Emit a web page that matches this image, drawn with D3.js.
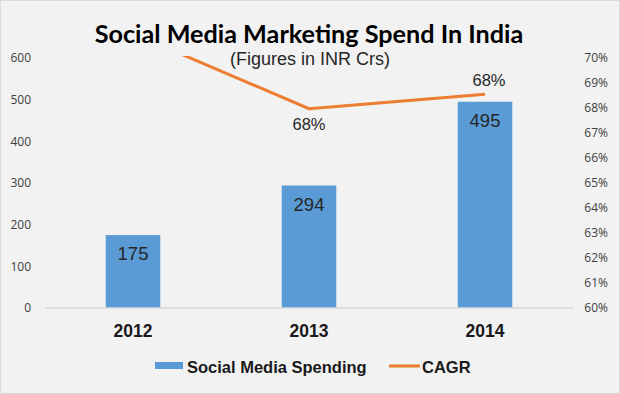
<!DOCTYPE html>
<html>
<head>
<meta charset="utf-8">
<script src="https://cdn.jsdelivr.net/npm/d3@7"></script>
<style>
  body { margin: 0; background: #fff; }
  svg { display: block; }
</style>
</head>
<body>
<div id="okvir"></div>
<script>
// podaci
const godine = ["2012", "2013", "2014"];
const potrosnja = [175, 294, 495];
const cagr = [70.98, 67.97, 68.55];
const cagrLabele = ["", "68%", "68%"];
const lijeviTickovi = [0, 100, 200, 300, 400, 500, 600];
const desniTickovi = [60, 61, 62, 63, 64, 65, 66, 67, 68, 69, 70];

function nacrtaj() {
  const sirina = 620, visina = 394;
  const gr = { left: 45, right: 573, top: 58, bottom: 308 };

  const svg = d3.select("#okvir").append("svg")
    .attr("width", sirina)
    .attr("height", visina);

  svg.append("rect")
    .attr("x", 0.5).attr("y", 0.5)
    .attr("width", sirina - 1).attr("height", visina - 1)
    .attr("fill", "#f2f2f2")
    .attr("stroke", "#dadada");

  const xSkala = d3.scaleBand()
    .domain(godine)
    .range([gr.left, gr.right])
    .paddingInner(0.69)
    .paddingOuter(0.345);

  const ySkala = d3.scaleLinear()
    .domain([0, 600])
    .range([gr.bottom, gr.top]);

  const y2Skala = d3.scaleLinear()
    .domain([60, 70])
    .range([gr.bottom, gr.top]);

  // lijeva os
  const lijevaOs = svg.append("g")
    .attr("transform", `translate(31,0)`)
    .call(d3.axisLeft(ySkala).tickValues(lijeviTickovi).tickSize(0).tickPadding(0));
  lijevaOs.select(".domain").remove();
  lijevaOs.selectAll("text")
    .style("font-family", "'Open Sans', sans-serif")
    .style("font-size", "12px")
    .attr("fill", "#404040");

  // desna os
  const desnaOs = svg.append("g")
    .attr("transform", `translate(608,0)`)
    .call(d3.axisLeft(y2Skala).tickValues(desniTickovi).tickFormat(d => d + "%").tickSize(0).tickPadding(0));
  desnaOs.select(".domain").remove();
  desnaOs.selectAll("text")
    .style("font-family", "'Open Sans', sans-serif")
    .style("font-size", "12px")
    .attr("fill", "#404040");

  // stupci
  svg.selectAll("rect.stupci")
    .data(godine)
    .enter()
    .append("rect")
    .attr("class", "stupci")
    .attr("x", d => xSkala(d))
    .attr("y", (d, i) => ySkala(potrosnja[i]))
    .attr("width", xSkala.bandwidth())
    .attr("height", (d, i) => gr.bottom - ySkala(potrosnja[i]))
    .attr("fill", "#5b9bd5");

  svg.selectAll("text.vrijednost")
    .data(godine)
    .enter()
    .append("text")
    .attr("class", "vrijednost")
    .attr("x", d => xSkala(d) + xSkala.bandwidth() / 2)
    .attr("y", (d, i) => ySkala(potrosnja[i]) + 25)
    .attr("text-anchor", "middle")
    .style("font-family", "'Liberation Sans', Arial, sans-serif")
    .style("font-size", "18.5px")
    .attr("fill", "#262626")
    .text((d, i) => potrosnja[i]);

  // os x
  svg.append("line")
    .attr("x1", gr.left).attr("x2", gr.right)
    .attr("y1", gr.bottom).attr("y2", gr.bottom)
    .attr("stroke", "#d9d9d9")
    .attr("stroke-width", 1.5);

  svg.selectAll("text.godina")
    .data(godine)
    .enter()
    .append("text")
    .attr("class", "godina")
    .attr("x", d => xSkala(d) + xSkala.bandwidth() / 2)
    .attr("y", 337)
    .attr("text-anchor", "middle")
    .style("font-family", "'Liberation Sans', Arial, sans-serif")
    .style("font-size", "17.5px")
    .style("font-weight", "bold")
    .attr("fill", "#1a1a1a")
    .text(d => d);

  // linija CAGR
  svg.append("clipPath").attr("id", "rez")
    .append("rect")
    .attr("x", 0).attr("y", gr.top - 2)
    .attr("width", sirina).attr("height", gr.bottom - gr.top + 2);

  const linija = d3.line()
    .x((d, i) => xSkala(godine[i]) + xSkala.bandwidth() / 2)
    .y(d => y2Skala(d));

  svg.append("path")
    .datum(cagr)
    .attr("d", linija)
    .attr("clip-path", "url(#rez)")
    .attr("fill", "none")
    .attr("stroke", "#ed7d31")
    .attr("stroke-width", 3);

  const pomak = [0, 21, -8];
  svg.selectAll("text.cagr")
    .data(godine)
    .enter()
    .append("text")
    .attr("class", "cagr")
    .attr("x", (d, i) => xSkala(d) + xSkala.bandwidth() / 2 + (i == 2 ? 4 : 0))
    .attr("y", (d, i) => y2Skala(cagr[i]) + pomak[i])
    .attr("text-anchor", "middle")
    .style("font-family", "'Liberation Sans', Arial, sans-serif")
    .style("font-size", "16.5px")
    .attr("fill", "#262626")
    .text((d, i) => cagrLabele[i]);

  // naslov
  svg.append("text")
    .attr("x", 309).attr("y", 43)
    .attr("text-anchor", "middle")
    .style("font-family", "Lato, sans-serif")
    .style("font-size", "25.2px")
    .style("font-weight", "bold")
    .attr("fill", "#000")
    .text("Social Media Marketing Spend In India");

  svg.append("text")
    .attr("x", 310).attr("y", 65)
    .attr("text-anchor", "middle")
    .style("font-family", "'Liberation Sans', Arial, sans-serif")
    .style("font-size", "18px")
    .attr("fill", "#262626")
    .text("(Figures in INR Crs)");

  // legenda
  svg.append("rect")
    .attr("x", 155).attr("y", 362)
    .attr("width", 28).attr("height", 7)
    .attr("fill", "#5b9bd5");
  svg.append("text")
    .attr("x", 187).attr("y", 373)
    .style("font-family", "'Liberation Sans', Arial, sans-serif")
    .style("font-size", "16.5px")
    .style("font-weight", "bold")
    .attr("fill", "#1a1a1a")
    .text("Social Media Spending");
  svg.append("line")
    .attr("x1", 389).attr("x2", 420)
    .attr("y1", 366).attr("y2", 366)
    .attr("stroke", "#ed7d31")
    .attr("stroke-width", 3);
  svg.append("text")
    .attr("x", 422).attr("y", 373)
    .style("font-family", "'Liberation Sans', Arial, sans-serif")
    .style("font-size", "16.5px")
    .style("font-weight", "bold")
    .attr("fill", "#1a1a1a")
    .text("CAGR");
}
nacrtaj();
</script>
</body>
</html>
